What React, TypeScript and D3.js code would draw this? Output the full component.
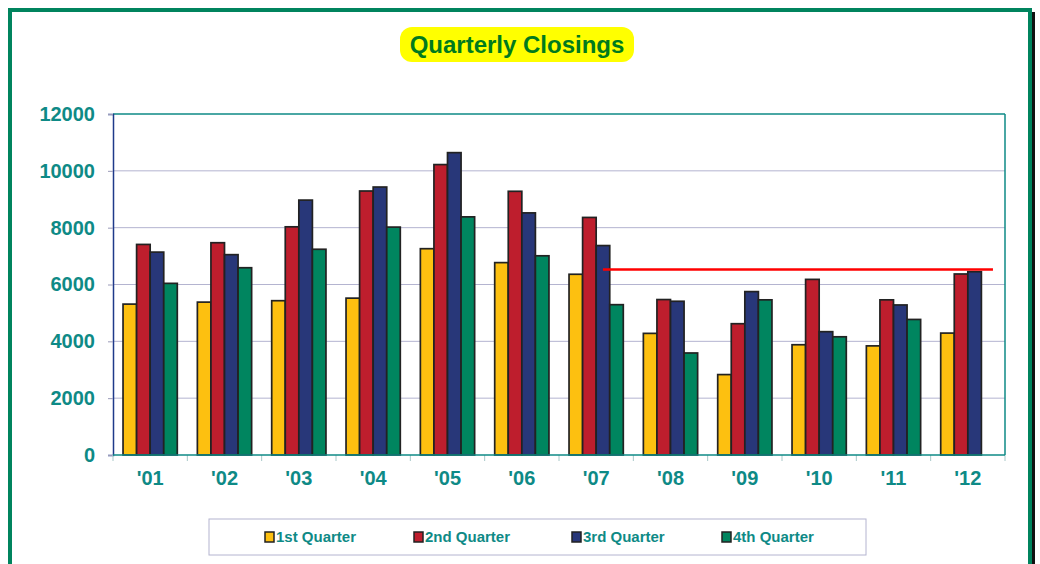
import React, { useEffect, useRef } from "react";
import * as d3 from "d3";

const W = 1040;
const H = 564;

const years = ["'01", "'02", "'03", "'04", "'05", "'06", "'07", "'08", "'09", "'10", "'11", "'12"];
const seriesNames = ["1st Quarter", "2nd Quarter", "3rd Quarter", "4th Quarter"];
const q1 = [5310, 5380, 5430, 5520, 7260, 6770, 6360, 4280, 2830, 3880, 3840, 4290];
const q2 = [7410, 7470, 8030, 9290, 10220, 9280, 8360, 5470, 4620, 6180, 5460, 6370];
const q3 = [7140, 7050, 8970, 9430, 10640, 8520, 7370, 5410, 5750, 4340, 5280, 6450];
const q4 = [6040, 6590, 7240, 8020, 8380, 7010, 5290, 3590, 5460, 4160, 4770, null];
const yTicks = [0, 2000, 4000, 6000, 8000, 10000, 12000];
const targetLine = 6530;

const COLORS = ["#FDC010", "#BE1E2D", "#283779", "#00855F"];
const TEAL = "#0E8A86";
const FONT = "'Liberation Sans', Arial, sans-serif";

export default function App() {
    const svgRef = useRef<SVGSVGElement>(null);

    useEffect(() => {
        if (!svgRef.current) return;
        const svg = d3.select(svgRef.current);
        svg.selectAll("*").remove();

        const ML = 113, MR = 1005, MT = 114, MB = 455;
        const series = [q1, q2, q3, q4];

        // ── Outer frame ───────────────────────────────────────────────
        svg.append("rect").attr("x", 13).attr("y", 12).attr("width", 1022).attr("height", 600)
            .attr("fill", "#111");
        svg.append("rect").attr("x", 10).attr("y", 10).attr("width", 1020).attr("height", 600)
            .attr("fill", "#fff").attr("stroke", "#00845E").attr("stroke-width", 4);

        // ── Title ─────────────────────────────────────────────────────
        svg.append("rect").attr("x", 400).attr("y", 27).attr("width", 234).attr("height", 35)
            .attr("rx", 12).attr("fill", "#FFFF00");
        svg.append("text").attr("x", 517).attr("y", 53).attr("text-anchor", "middle")
            .attr("font-family", FONT).attr("font-weight", 700).attr("font-size", "24px")
            .attr("fill", "#007A1E").text("Quarterly Closings");

        // ── Scales ────────────────────────────────────────────────────
        const x0 = d3.scaleBand().domain(years).range([ML, MR]).paddingInner(0.27).paddingOuter(0.135);
        const x1 = d3.scaleBand().domain(seriesNames).range([0, x0.bandwidth()]);
        const y = d3.scaleLinear().domain([0, 12000]).range([MB, MT]);

        // Gridlines
        svg.append("g").selectAll("line").data(yTicks.slice(1, -1)).join("line")
            .attr("x1", ML).attr("x2", MR).attr("y1", d => y(d)).attr("y2", d => y(d))
            .attr("stroke", "#B4B4D0").attr("stroke-width", 1);

        // Plot border
        svg.append("line").attr("x1", ML).attr("x2", MR).attr("y1", MT).attr("y2", MT)
            .attr("stroke", TEAL).attr("stroke-width", 1.5);
        svg.append("line").attr("x1", MR).attr("x2", MR).attr("y1", MT).attr("y2", MB)
            .attr("stroke", TEAL).attr("stroke-width", 1.5);

        // Y axis
        const yAx = svg.append("g").attr("transform", `translate(${ML},0)`)
            .call(d3.axisLeft(y).tickValues(yTicks).tickSize(5).tickPadding(13).tickFormat(d3.format("d")));
        yAx.select(".domain").attr("stroke", "#1F3A8A").attr("stroke-width", 1.5);
        yAx.selectAll(".tick line").attr("stroke", "#9A9AB8");
        yAx.selectAll(".tick text").attr("font-family", FONT).attr("font-weight", 700)
            .attr("font-size", "20px").attr("fill", TEAL);

        // X axis
        const xAx = svg.append("g").attr("transform", `translate(0,${MB})`)
            .call(d3.axisBottom(x0).tickSize(0).tickPadding(16));
        xAx.select(".domain").remove();
        xAx.selectAll(".tick text").attr("font-family", FONT).attr("font-weight", 700)
            .attr("font-size", "20px").attr("fill", TEAL);
        const step = x0.step();
        svg.append("g").selectAll("line").data(d3.range(years.length + 1)).join("line")
            .attr("x1", i => ML + i * step).attr("x2", i => ML + i * step)
            .attr("y1", MB).attr("y2", MB + 6).attr("stroke", "#A8C8C8");

        // Bars
        years.forEach((yr, i) => {
            series.forEach((s, k) => {
                const v = s[i];
                if (v == null) return;
                svg.append("rect")
                    .attr("x", (x0(yr) as number) + (x1(seriesNames[k]) as number))
                    .attr("y", y(v))
                    .attr("width", x1.bandwidth())
                    .attr("height", MB - y(v))
                    .attr("fill", COLORS[k])
                    .attr("stroke", "#222").attr("stroke-width", 1.7);
            });
        });

        svg.append("line").attr("x1", ML).attr("x2", MR).attr("y1", MB).attr("y2", MB)
            .attr("stroke", TEAL).attr("stroke-width", 1.5);

        // Target line
        const lineStart = (x0("'07") as number) + (x1("3rd Quarter") as number) + x1.bandwidth() / 2;
        const lineEnd = (x0("'12") as number) + (x1("4th Quarter") as number) + x1.bandwidth() - 2;
        svg.append("line").attr("x1", lineStart).attr("x2", lineEnd)
            .attr("y1", y(targetLine)).attr("y2", y(targetLine))
            .attr("stroke", "#FF0000").attr("stroke-width", 2.5);

        // Legend
        svg.append("rect").attr("x", 209).attr("y", 519).attr("width", 657).attr("height", 36)
            .attr("fill", "#fff").attr("stroke", "#B4B4D0");
        const legendX = [265, 414, 572, 722];
        seriesNames.forEach((name, k) => {
            svg.append("rect").attr("x", legendX[k]).attr("y", 532).attr("width", 9).attr("height", 10)
                .attr("fill", COLORS[k]).attr("stroke", "#222").attr("stroke-width", 1.5);
            svg.append("text").attr("x", legendX[k] + 11).attr("y", 542)
                .attr("font-family", FONT).attr("font-weight", 700).attr("font-size", "15px")
                .attr("fill", TEAL).text(name);
        });
    }, []);

    return (
        <svg ref={svgRef} width={W} height={H}
            style={{ position: "absolute", left: 0, top: 0, background: "#fff" }} />
    );
}
